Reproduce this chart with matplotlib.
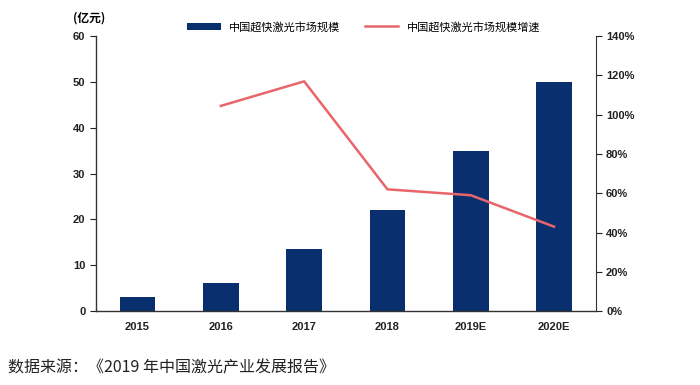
import matplotlib
matplotlib.use("Agg")
import matplotlib.pyplot as plt
from matplotlib.ticker import FuncFormatter

plt.rcParams['font.family'] = ['Liberation Sans', 'Noto Sans CJK SC', 'DejaVu Sans']

categories = ['2015', '2016', '2017', '2018', '2019E', '2020E']
market_size = [3.0, 6.1, 13.5, 22.0, 35.0, 50.0]
growth_cats = ['2016', '2017', '2018', '2019E', '2020E']
growth_pct = [104.5, 117.0, 62.0, 59.0, 43.0]

bar_color = '#0A2F6E'
line_color = '#E8666B'

fig = plt.figure(figsize=(7, 3.85), dpi=100)
ax = fig.add_axes([0.137, 0.192, 0.714, 0.714])
x = list(range(len(categories)))
bars = ax.bar(x, market_size, width=0.43, color=bar_color, zorder=2, label='中国超快激光市场规模')
ax.set_xlim(-0.5, len(categories) - 0.5)
ax.set_ylim(0, 60)
ax.set_yticks(range(0, 61, 10))
ax.set_xticks(x)
ax.set_xticklabels(categories)
ax.spines['top'].set_visible(False)
ax.spines['right'].set_visible(False)
for s in ['left', 'bottom']:
    ax.spines[s].set_color('#333333')
    ax.spines[s].set_linewidth(1.0)
ax.tick_params(axis='y', direction='out', length=4, labelsize=8, colors='#222222')
ax.tick_params(axis='x', length=0, labelsize=8, colors='#222222', pad=8)

ax2 = ax.twinx()
gx = [categories.index(c) for c in growth_cats]
line, = ax2.plot(gx, growth_pct, color=line_color, lw=1.8, zorder=3, label='中国超快激光市场规模增速')
ax2.set_ylim(0, 140)
ax2.set_yticks(range(0, 141, 20))
ax2.yaxis.set_major_formatter(FuncFormatter(lambda v, p: f'{int(v)}%'))
ax2.spines['top'].set_visible(False)
ax2.spines['left'].set_visible(False)
ax2.spines['bottom'].set_visible(False)
ax2.spines['right'].set_color('#333333')
ax2.tick_params(axis='y', direction='out', length=4, labelsize=8, colors='#222222')

for lab in ax.get_xticklabels() + ax.get_yticklabels() + ax2.get_yticklabels():
    lab.set_fontweight('bold')

fig.text(0.105, 0.935, '(亿元)', fontsize=8.5, fontweight='bold', ha='left', va='bottom',
         family=['Noto Sans CJK SC', 'DejaVu Sans'])

leg = fig.legend(handles=[bars, line], loc='center', bbox_to_anchor=(0.52, 0.93), ncol=2,
                 frameon=False, handlelength=3.0, columnspacing=2.2,
                 prop={'family': ['Noto Sans CJK SC', 'DejaVu Sans'], 'size': 8})

fig.text(0.012, 0.045, '数据来源：《2019 年中国激光产业发展报告》', fontsize=11.5, ha='left', va='center',
         family=['Noto Sans CJK SC', 'DejaVu Sans'], color='#222222')

fig.savefig('out.png', dpi=100)
